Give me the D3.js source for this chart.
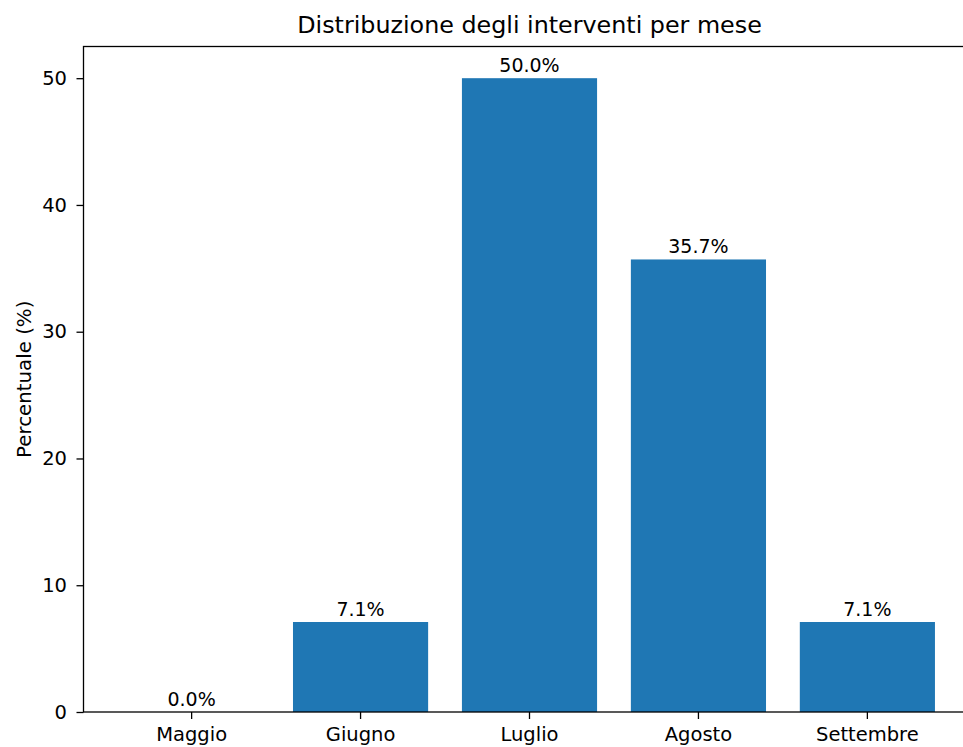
<!DOCTYPE html>
<html>
<head>
<meta charset="utf-8">
<script src="https://cdn.jsdelivr.net/npm/d3@7"></script>
<style>
    body { margin: 0; background: #fff; }
    svg text { font-family: "DejaVu Sans", sans-serif; fill: #000; }
</style>
</head>
<body>
<div id="chart"></div>
<script>
// data
var mesi = [ 'Maggio', 'Giugno', 'Luglio', 'Agosto', 'Settembre' ];
var percentuali = [ 0.0, 7.1, 50.0, 35.7, 7.1 ];
var yTicks = [ 0, 10, 20, 30, 40, 50 ];

var drawChart = function() {
    var W = 963, H = 747;
    var margin = { left: 83.5, top: 46.5, right: -12.5, bottom: 35 };
    var width = W - margin.left - margin.right,
        height = H - margin.top - margin.bottom;

    var svg = d3.select('#chart')
        .append('svg')
            .attr('width', W)
            .attr('height', H);

    var g = svg.append('g')
        .attr('transform', 'translate(' + margin.left + ', ' + margin.top + ')');

    // X Scale (matplotlib-like: bar width 0.8, 5% margins)
    var x = d3.scaleBand()
        .domain(mesi)
        .range([0, width])
        .paddingInner(0.2)
        .paddingOuter(0.24);

    // Y Scale
    var y = d3.scaleLinear()
        .domain([0, d3.max(percentuali) * 1.05])
        .range([height, 0]);

    // bars
    g.selectAll('rect.bar')
        .data(percentuali)
        .enter()
        .append('rect')
            .attr('class', 'bar')
            .attr('fill', '#1f77b4')
            .attr('x', (d, i) => x(mesi[i]))
            .attr('width', x.bandwidth())
            .attr('y', d => y(d))
            .attr('height', d => height - y(d));

    // bar labels
    g.selectAll('text.lbl')
        .data(percentuali)
        .enter()
        .append('text')
            .attr('class', 'lbl')
            .attr('x', (d, i) => x(mesi[i]) + x.bandwidth() / 2)
            .attr('y', d => y(d) - 6)
            .attr('text-anchor', 'middle')
            .attr('font-size', '19px')
            .text(d => d.toFixed(1) + '%');

    // axes
    var xAxis = g.append('g')
        .attr('transform', 'translate(0, ' + height + ')')
        .call(d3.axisBottom(x).tickSize(7).tickPadding(8.5).tickSizeOuter(0));
    var yAxis = g.append('g')
        .call(d3.axisLeft(y).tickValues(yTicks).tickSize(7).tickPadding(9.5).tickSizeOuter(0));

    [xAxis, yAxis].forEach(a => {
        a.select('.domain').remove();
        a.selectAll('line').attr('stroke', '#000').attr('stroke-width', 1.3);
        a.selectAll('text').attr('font-size', '19.5px').attr('fill', '#000')
            .style('font-family', '"DejaVu Sans", sans-serif');
    });

    // spines
    g.append('rect')
        .attr('x', 0)
        .attr('y', 0)
        .attr('width', width)
        .attr('height', height)
        .attr('fill', 'none')
        .attr('stroke', '#000')
        .attr('stroke-width', 1.3);

    // title
    svg.append('text')
        .attr('x', margin.left + width / 2)
        .attr('y', 33)
        .attr('text-anchor', 'middle')
        .attr('font-size', '23.8px')
        .text('Distribuzione degli interventi per mese');

    // Y label
    svg.append('text')
        .attr('transform', 'translate(30.5, ' + (margin.top + height / 2) + ') rotate(-90)')
        .attr('text-anchor', 'middle')
        .attr('font-size', '19.8px')
        .text('Percentuale (%)');
}

drawChart();
</script>
</body>
</html>
